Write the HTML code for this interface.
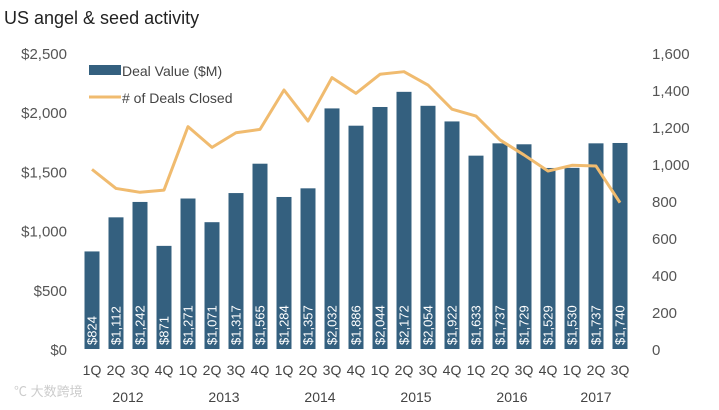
<!DOCTYPE html>
<html><head><meta charset="utf-8"><style>
body{margin:0;background:#fff;width:719px;height:410px;overflow:hidden;font-family:"Liberation Sans",sans-serif}
</style></head><body>
<svg id="c" width="719" height="410" style="position:absolute;left:0;top:0">
<text x="4" y="24" font-size="18" fill="#222">US angel &amp; seed activity</text>
<g id="g"></g>
<text x="14" y="396" font-size="13" fill="#ccc" font-family="'Liberation Sans','Noto Sans CJK SC',sans-serif">℃ 大数跨境</text>
</svg>
<script>
const quarters=["1Q","2Q","3Q","4Q","1Q","2Q","3Q","4Q","1Q","2Q","3Q","4Q","1Q","2Q","3Q","4Q","1Q","2Q","3Q","4Q","1Q","2Q","3Q"];
const years=["2012","2013","2014","2015","2016","2017"];
const dealValue=[824,1112,1242,871,1271,1071,1317,1565,1284,1357,2032,1886,2044,2172,2054,1922,1633,1737,1729,1529,1530,1737,1740];
const dealsClosed=[971,868,847,859,1202,1090,1169,1187,1400,1232,1467,1382,1485,1499,1427,1296,1259,1130,1049,962,993,989,791];
const leftTicks=[0,500,1000,1500,2000,2500];
const rightTicks=[0,200,400,600,800,1000,1200,1400,1600];
const NS="http://www.w3.org/2000/svg",g=document.getElementById('g');
const y0=349,y1=53;
const yL=v=>y0-(y0-y1)*v/2500, yR=v=>y0-(y0-y1)*v/1600, xC=i=>92+i*24;
function mk(t,a,txt){const e=document.createElementNS(NS,t);for(const k in a)e.setAttribute(k,a[k]);if(txt!=null)e.textContent=txt;g.appendChild(e);return e;}
leftTicks.forEach(v=>{const e=mk('text',{x:67,y:yL(v)+6,'font-size':15,fill:'#555','text-anchor':'end'},'$'+v.toLocaleString('en-US'));

});
rightTicks.forEach(v=>{const e=mk('text',{x:652,y:yR(v)+6,'font-size':15,fill:'#555'},v.toLocaleString('en-US'));

});
dealValue.forEach((v,i)=>{const b=mk('rect',{x:xC(i)-7.5,y:yL(v),width:15,height:y0-yL(v),fill:'#34607f'});


const t=mk('text',{x:0,y:0,'font-size':13,fill:'#fff',transform:`translate(${xC(i)+4.5},345) rotate(-90)`},'$'+v.toLocaleString('en-US'));


const q=mk('text',{x:xC(i),y:375,'font-size':14,fill:'#444','text-anchor':'middle'},quarters[i]);

});
years.forEach((yr,k)=>{const i0=k*4,i1=Math.min(k*4+3,22);const e=mk('text',{x:(xC(i0)+xC(i1))/2,y:402,'font-size':14,fill:'#444','text-anchor':'middle'},yr);

});
const ln=mk('polyline',{points:dealsClosed.map((v,i)=>xC(i)+','+yR(v)).join(' '),fill:'none',stroke:'#f0bb6f','stroke-width':3,'stroke-linejoin':'round'});


let e=mk('rect',{x:89,y:65,width:32,height:10,fill:'#34607f'});


e=mk('text',{x:122,y:76,'font-size':14,fill:'#444'},'Deal Value ($M)');


e=mk('line',{x1:89,x2:121,y1:97,y2:97,stroke:'#f0bb6f','stroke-width':3});


e=mk('text',{x:122,y:103,'font-size':14,fill:'#444'},'# of Deals Closed');


</script>
</body></html>
